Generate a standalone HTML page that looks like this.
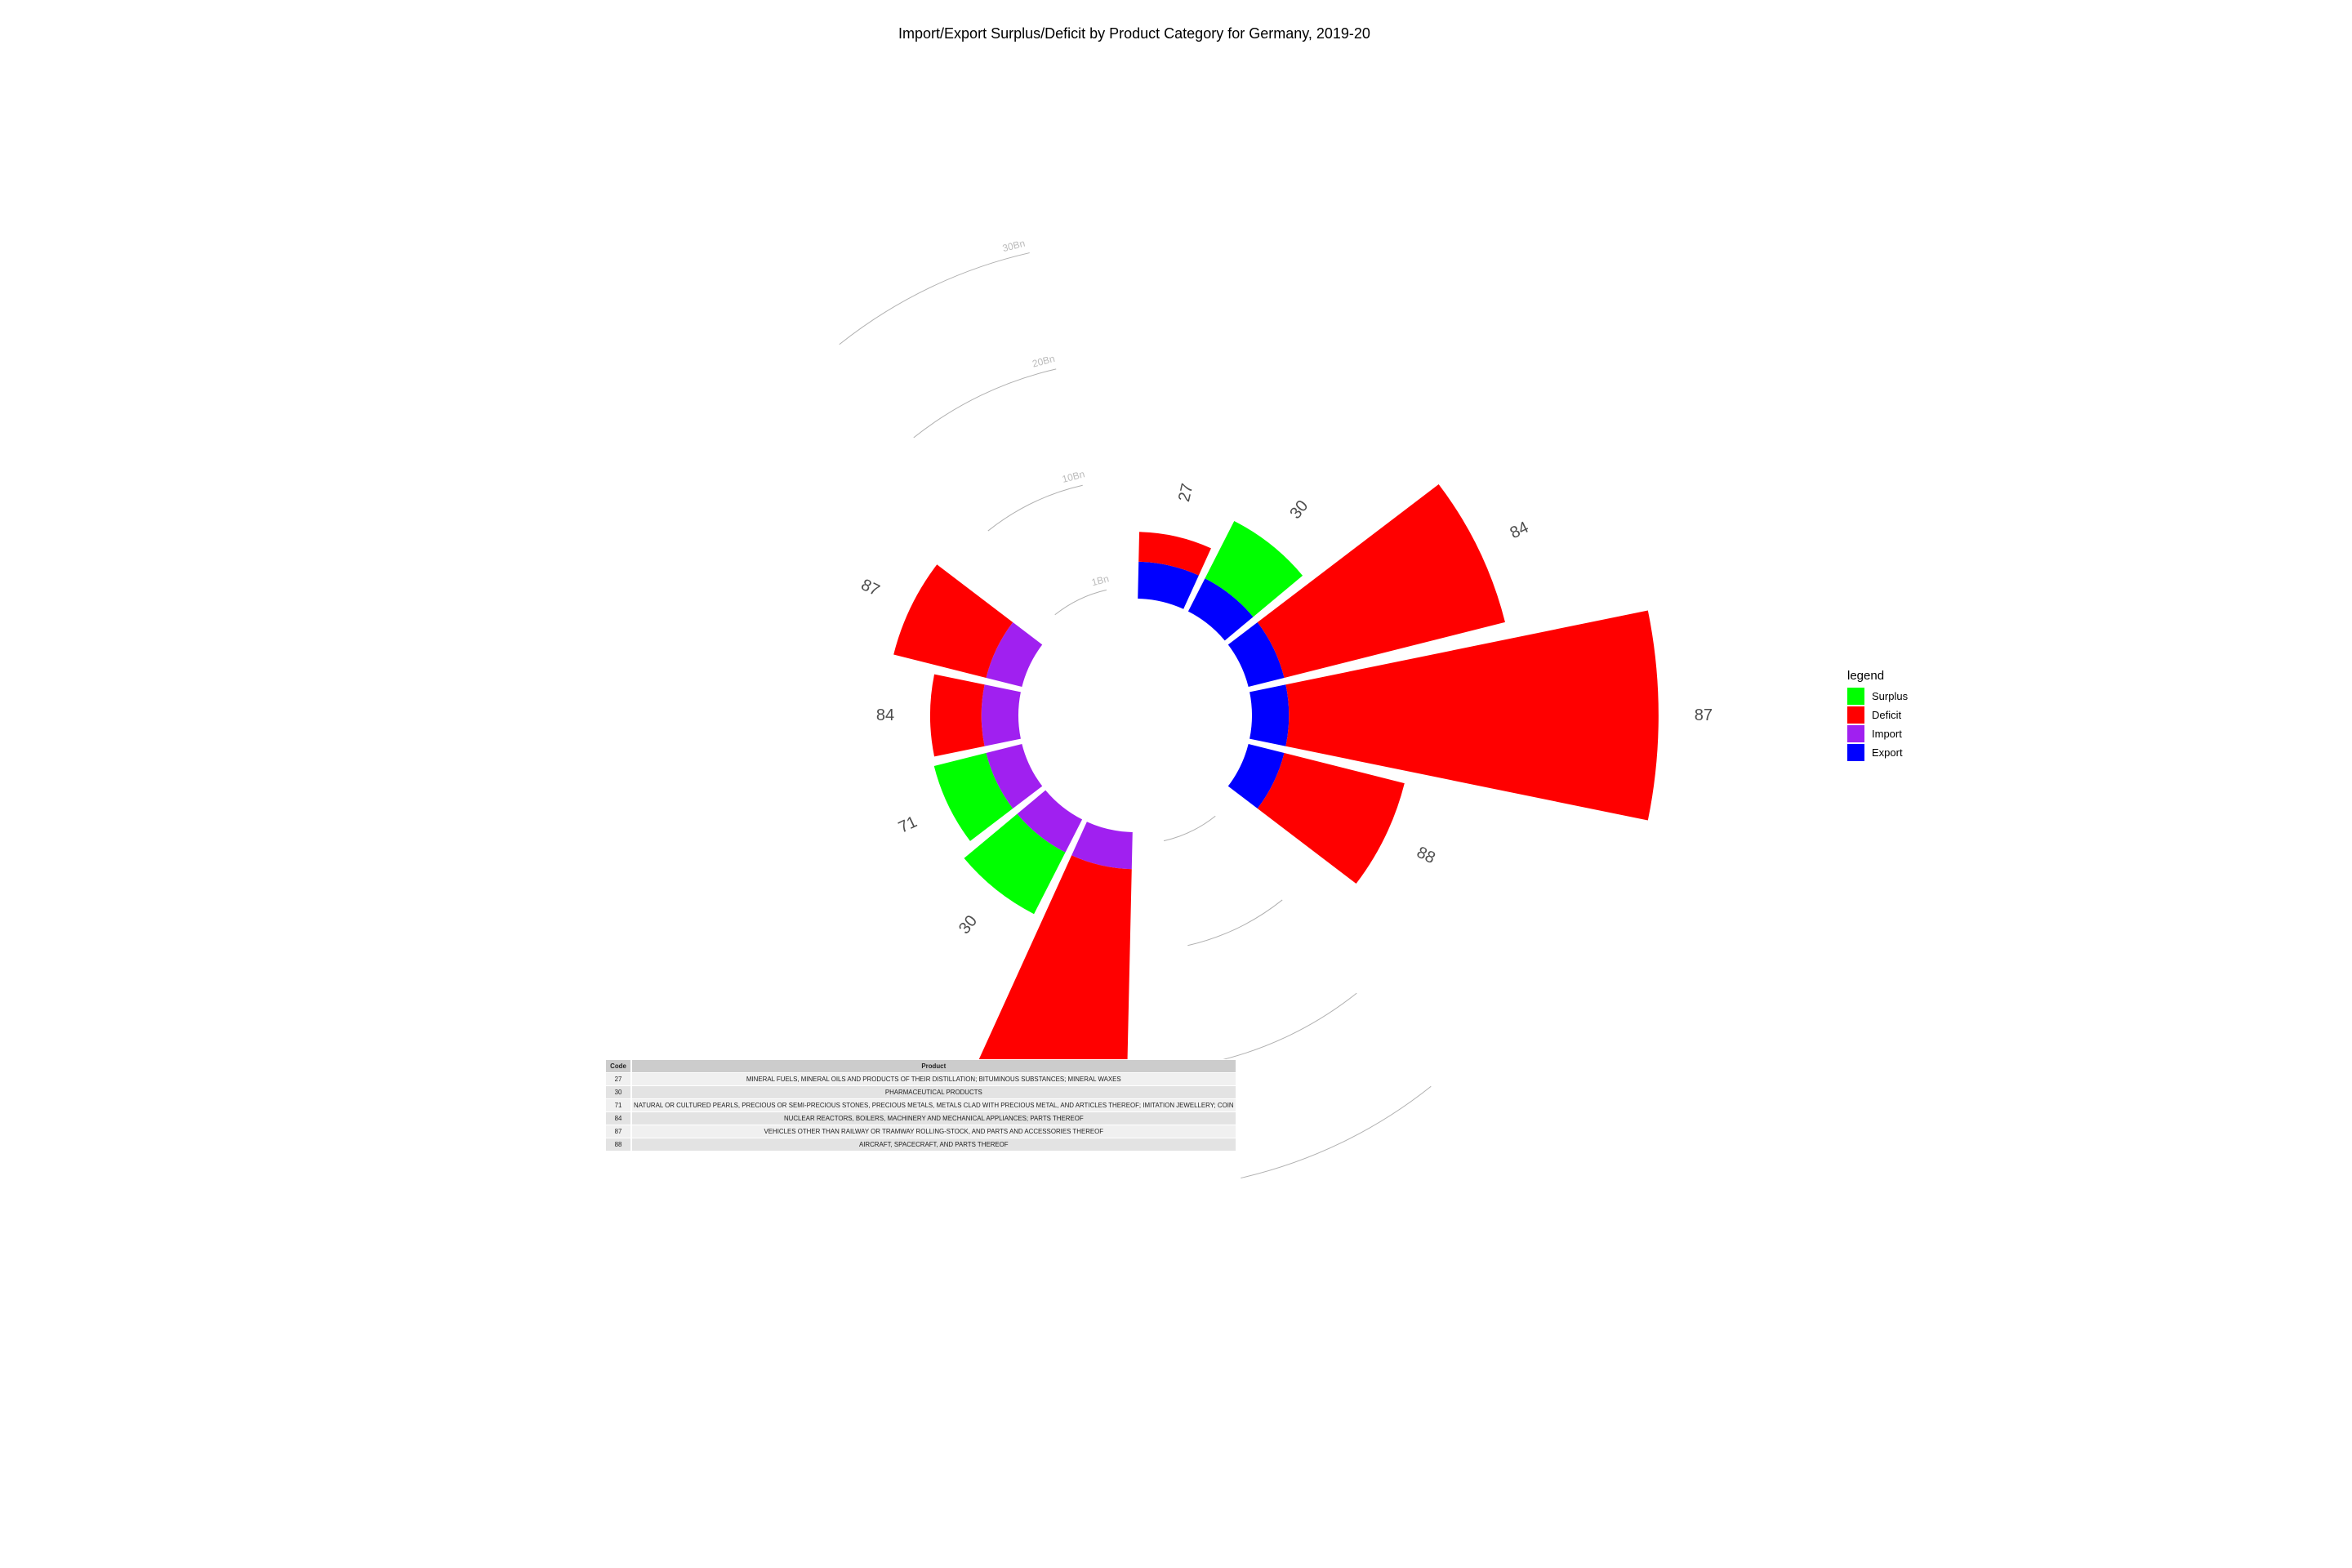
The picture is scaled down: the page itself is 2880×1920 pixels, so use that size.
<!DOCTYPE html>
<html><head><meta charset="utf-8"><style>
html,body{margin:0;padding:0;background:#fff;}
body{width:2880px;height:1920px;position:relative;overflow:hidden;font-family:"Liberation Sans",sans-serif;}
#title{position:absolute;left:0;width:2778px;top:31px;text-align:center;font-size:18px;color:#000;}
#legend{position:absolute;left:2262px;top:819px;font-size:13px;color:#000;}
#legend .lt{font-size:15px;margin-bottom:5px;}
#legend .row{height:23px;display:flex;align-items:center;}
#legend .sw{width:21px;height:21px;margin-right:9px;}
#tbl{position:absolute;left:740px;top:1297px;border-collapse:separate;border-spacing:2px 1px;font-size:7.9px;color:#222;background:#fff;z-index:2;}
#tbl td,#tbl th{height:15px;padding:0 2px;text-align:center;white-space:nowrap;}
#tbl th{background:#cccccc;font-weight:bold;}
#tbl tr.l td{background:#f0f0f0;}
#tbl tr.d td{background:#e3e3e3;}
</style></head><body>
<div id="title">Import/Export Surplus/Deficit by Product Category for Germany, 2019-20</div>
<svg id="chart" width="2880" height="1920" style="position:absolute;left:0;top:0"></svg>
<div id="legend">
<div class="lt">legend</div>
<div class="row"><div class="sw" style="background:#00ff00"></div>Surplus</div>
<div class="row"><div class="sw" style="background:#ff0000"></div>Deficit</div>
<div class="row"><div class="sw" style="background:#a020f0"></div>Import</div>
<div class="row"><div class="sw" style="background:#0000ff"></div>Export</div>
</div>
<table id="tbl">
<tr><th style="width:26px">Code</th><th style="width:726px">Product</th></tr>
<tr class="l"><td>27</td><td>MINERAL FUELS, MINERAL OILS AND PRODUCTS OF THEIR DISTILLATION; BITUMINOUS SUBSTANCES; MINERAL WAXES</td></tr>
<tr class="d"><td>30</td><td>PHARMACEUTICAL PRODUCTS</td></tr>
<tr class="l"><td>71</td><td>NATURAL OR CULTURED PEARLS, PRECIOUS OR SEMI-PRECIOUS STONES, PRECIOUS METALS, METALS CLAD WITH PRECIOUS METAL, AND ARTICLES THEREOF; IMITATION JEWELLERY; COIN</td></tr>
<tr class="d"><td>84</td><td>NUCLEAR REACTORS, BOILERS, MACHINERY AND MECHANICAL APPLIANCES; PARTS THEREOF</td></tr>
<tr class="l"><td>87</td><td>VEHICLES OTHER THAN RAILWAY OR TRAMWAY ROLLING-STOCK, AND PARTS AND ACCESSORIES THEREOF</td></tr>
<tr class="d"><td>88</td><td>AIRCRAFT, SPACECRAFT, AND PARTS THEREOF</td></tr>
</table>
<script>
const exportCodes = ['27','30','84','87','88'];
const exportSlots = [0,1,2,3,4];
const exportRing = [3.1,3.1,3.1,3.1,3.1];
const exportOuter = [5.6,8.5,22.2,34.1,13.5];
const exportTopType = ['Deficit','Surplus','Deficit','Deficit','Deficit'];
const importCodes = ['27','30','71','84','87'];
const importSlots = [7,8,9,10,11];
const importRing = [3.1,3.1,3.1,3.1,3.1];
const importOuter = [22.0,8.9,7.6,7.4,11.1];
const importTopType = ['Deficit','Surplus','Surplus','Deficit','Deficit'];
const gridValues = [1,10,20,30];
const gridLabels = ['1Bn','10Bn','20Bn','30Bn'];
const gridSlots = [12,5];

const NS='http://www.w3.org/2000/svg';
const svg=document.getElementById('chart');
const cx=1390, cy=876, r0=143, k=14.6, nSlots=14, slotDeg=360/nSlots, barFrac=0.9;
const colors={Surplus:'#00ff00',Deficit:'#ff0000',Import:'#a020f0',Export:'#0000ff'};
function rad(v){return r0+k*v;}
function pt(a,r){const t=a*Math.PI/180;return [cx+r*Math.sin(t),cy-r*Math.cos(t)];}
function sector(a1,a2,ri,ro){
  const p1=pt(a1,ro),p2=pt(a2,ro),p3=pt(a2,ri),p4=pt(a1,ri);
  const lg=(a2-a1)>180?1:0;
  return `M${p1[0]},${p1[1]} A${ro},${ro} 0 ${lg} 1 ${p2[0]},${p2[1]} L${p3[0]},${p3[1]} A${ri},${ri} 0 ${lg} 0 ${p4[0]},${p4[1]} Z`;
}
function arcPath(a1,a2,r){const p1=pt(a1,r),p2=pt(a2,r);return `M${p1[0]},${p1[1]} A${r},${r} 0 0 1 ${p2[0]},${p2[1]}`;}

gridValues.forEach((v,i)=>{
  gridSlots.forEach(s=>{
    const p=document.createElementNS(NS,'path');
    p.setAttribute('d',arcPath((s+0.5)*slotDeg,(s+1.5)*slotDeg,rad(v)));
    p.setAttribute('fill','none');p.setAttribute('stroke','#b0b0b0');p.setAttribute('stroke-width','1');
    
    
    svg.appendChild(p);
  });
  const a=345.5, q=pt(a,rad(v)+9);
  const t=document.createElementNS(NS,'text');
  t.setAttribute('x',q[0]);t.setAttribute('y',q[1]);
  t.setAttribute('text-anchor','middle');t.setAttribute('font-size','12');t.setAttribute('fill','#bbbbbb');
  t.setAttribute('font-family','Liberation Sans, sans-serif');
  t.setAttribute('transform',`rotate(${a-360} ${q[0]} ${q[1]})`);
  t.textContent=gridLabels[i];
  
  
  svg.appendChild(t);
});

function drawSide(codes,slots,ring,outer,types,ringType){
  codes.forEach((c,i)=>{
    const s=slots[i];
    const mid=(s+0.5)*slotDeg, half=slotDeg*barFrac/2;
    const a1=mid-half,a2=mid+half;
    const rr=rad(ring[i]), ro=rad(outer[i]);
    const p1=document.createElementNS(NS,'path');
    p1.setAttribute('d',sector(a1,a2,r0,rr));
    p1.setAttribute('fill',colors[ringType]);
    
    
    svg.appendChild(p1);
    const p2=document.createElementNS(NS,'path');
    p2.setAttribute('d',sector(a1,a2,rr,ro));
    p2.setAttribute('fill',colors[types[i]]);
    
    
    svg.appendChild(p2);
    const q=pt(mid,ro+55);
    let rot=mid-90; if(mid>180) rot-=180;
    const t=document.createElementNS(NS,'text');
    t.setAttribute('x',q[0]);t.setAttribute('y',q[1]);
    t.setAttribute('text-anchor','middle');t.setAttribute('dominant-baseline','central');
    t.setAttribute('font-size','20');t.setAttribute('fill','#4d4d4d');
    t.setAttribute('font-family','Liberation Sans, sans-serif');
    t.setAttribute('transform',`rotate(${rot} ${q[0]} ${q[1]})`);
    t.textContent=c;
    
    
    svg.appendChild(t);
  });
}
drawSide(exportCodes,exportSlots,exportRing,exportOuter,exportTopType,'Export');
drawSide(importCodes,importSlots,importRing,importOuter,importTopType,'Import');
</script>
</body></html>
